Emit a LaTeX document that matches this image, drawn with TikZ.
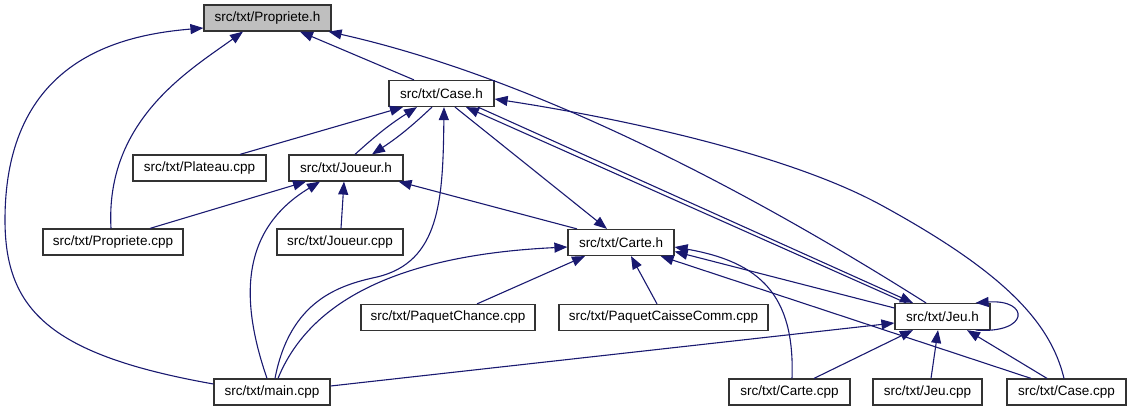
\documentclass[tikz,border=0pt]{standalone}
\usepackage{fontspec}
\setmainfont{Liberation Sans}
\usetikzlibrary{arrows.meta}
\definecolor{edgeblue}{HTML}{191970}
\definecolor{rootgray}{HTML}{BFBFBF}
\begin{document}
\begin{tikzpicture}[x=1pt,y=-1pt,
  box/.style={draw=black!80, line width=1.2pt, fill=white, minimum height=26pt,
    inner sep=0pt, font=\fontsize{13.5}{16}\selectfont},
  edge/.style={draw=edgeblue, line width=1.1pt, -{Triangle[length=13pt,width=10pt]}}]
\useasboundingbox (0,0) rectangle (1131,411);
% nodes
\node[box, minimum width=127pt, fill=rootgray] (PH) at (267.5,18) {src/txt/Propriete.h};
\node[box, minimum width=105pt] (CH) at (441.5,93.5) {src/txt/Case.h};
\node[box, minimum width=133pt] (PC) at (199.5,168) {src/txt/Plateau.cpp};
\node[box, minimum width=114pt] (JH) at (346,168) {src/txt/Joueur.h};
\node[box, minimum width=140pt] (PRC) at (113,242) {src/txt/Propriete.cpp};
\node[box, minimum width=126pt] (JC) at (340,242) {src/txt/Joueur.cpp};
\node[box, minimum width=106pt] (CaH) at (621,242.5) {src/txt/Carte.h};
\node[box, minimum width=174pt] (PCh) at (448,317.5) {src/txt/PaquetChance.cpp};
\node[box, minimum width=209pt] (PCC) at (663.5,317.5) {src/txt/PaquetCaisseComm.cpp};
\node[box, minimum width=95pt] (JeH) at (942.5,316.5) {src/txt/Jeu.h};
\node[box, minimum width=116pt] (MC) at (272,392) {src/txt/main.cpp};
\node[box, minimum width=121pt] (CC) at (789.5,392) {src/txt/Carte.cpp};
\node[box, minimum width=109pt] (JeC) at (927.5,392) {src/txt/Jeu.cpp};
\node[box, minimum width=119pt] (CaC) at (1066.5,392) {src/txt/Case.cpp};
% edges into Propriete.h
\draw[edge] ([yshift=8pt]MC.west) .. controls (50,355) and (5,310) .. (5,220) .. controls (5,60) and (120,35) .. ([yshift=-10pt]PH.west);
\draw[edge] ([xshift=-2pt]PRC.north) .. controls (105,120) and (190,70) .. ([xshift=-24.5pt]PH.south);
\draw[edge] ([xshift=-27.5pt]CH.north) -- ([xshift=32.5pt]PH.south);
\draw[edge] ([xshift=-16.5pt]JeH.north) .. controls (700,160) and (500,70) .. ([xshift=-3pt]PH.south east);
% edges into Case.h
\draw[edge] ([xshift=40.5pt]PC.north) -- ([xshift=-38.5pt]CH.south);
\draw[edge] ([xshift=9pt]JH.north) to[bend left=5] ([xshift=-24.5pt]CH.south);
\draw[edge] ([xshift=3pt]MC.north) .. controls (290,300) and (340,285) .. (377,277) .. controls (440,262) and (443,200) .. ([xshift=2.5pt]CH.south);
\draw[edge] ([xshift=-36.5pt]JeH.north) -- ([xshift=24.5pt]CH.south);
\draw[edge] ([xshift=-2.5pt]CaC.north) .. controls (1050,320) and (1000,270) .. (881,205) .. controls (780,150) and (600,115) .. ([yshift=-5.5pt]CH.east);
% edges into Joueur.h
\draw[edge] ([xshift=-9.5pt]CH.south) to[bend left=5] ([xshift=26pt]JH.north);
\draw[edge] ([xshift=-5pt]MC.north) .. controls (240,300) and (240,230) .. ([xshift=-26pt]JH.south);
\draw[edge] ([xshift=37pt]PRC.north) -- ([xshift=-40pt]JH.south);
\draw[edge] ([xshift=1pt]JC.north) -- ([xshift=-2pt]JH.south);
\draw[edge] ([xshift=-44pt]CaH.north) -- ([xshift=-5pt]JH.south east);
% edges into Carte.h
\draw[edge] ([xshift=13.5pt]CH.south) -- ([xshift=-14pt]CaH.north);
\draw[edge] ([xshift=6pt]MC.north) .. controls (310,300) and (400,255) .. ([yshift=-4.5pt]CaH.west);
\draw[edge] ([xshift=29pt]PCh.north) -- ([xshift=-36pt]CaH.south);
\draw[edge] ([xshift=-6.5pt]PCC.north) -- ([xshift=10pt]CaH.south);
\draw[edge] ([xshift=2.5pt]CC.north) .. controls (795,295) and (760,262) .. ([yshift=-4.5pt]CaH.east);
\draw[edge] ([yshift=8.5pt]JeH.west) -- ([yshift=-9pt]CaH.east);
\draw[edge] ([xshift=-35.5pt]CaC.north) -- ([xshift=-14pt]CaH.south east);
% edges into Jeu.h
\draw[edge] ([xshift=36.5pt]CH.south) -- ([xshift=-29.5pt]JeH.north);
\draw[edge] ([yshift=6pt]MC.east) -- ([yshift=-6.5pt]JeH.west);
\draw[edge] ([xshift=24.5pt]CC.north) -- ([xshift=-29.5pt]JeH.south);
\draw[edge] ([xshift=3.5pt]JeC.north) -- ([xshift=-4.5pt]JeH.south);
\draw[edge] ([xshift=-19.5pt]CaC.north) -- ([xshift=24.5pt]JeH.south);
\draw[edge] ([xshift=-15pt]JeH.south east) .. controls (1030,334) and (1030,299) .. ([xshift=-15pt]JeH.north east);
\end{tikzpicture}
\end{document}
